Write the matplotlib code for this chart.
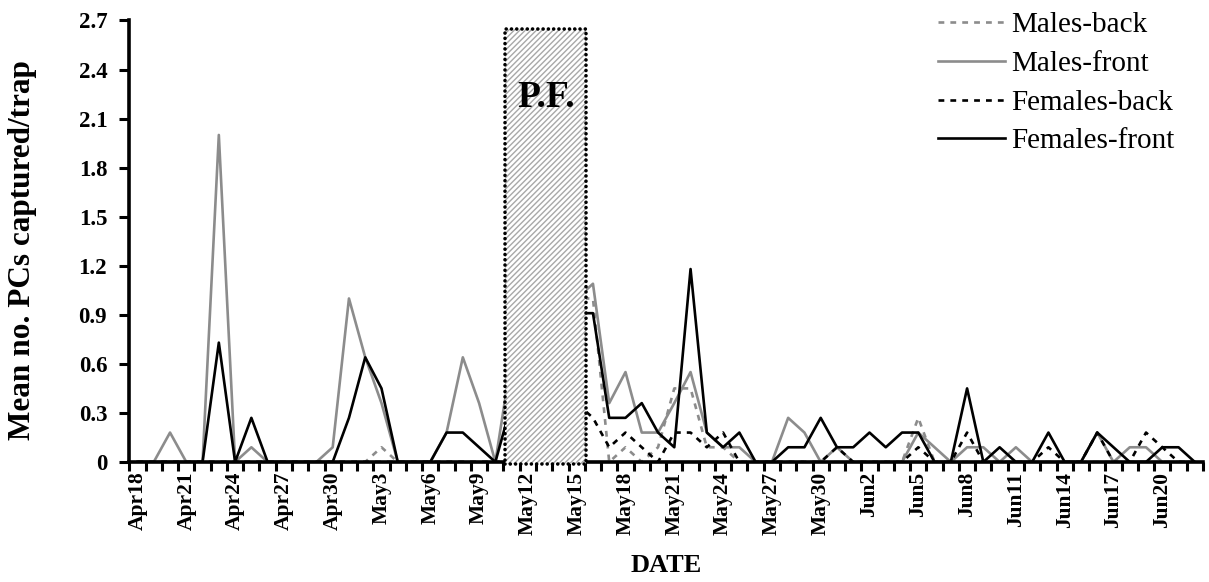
import datetime as dt
import numpy as np
import matplotlib
matplotlib.use("Agg")
import matplotlib.pyplot as plt
from matplotlib.patches import Rectangle
from matplotlib.lines import Line2D

plt.rcParams['font.family'] = ['Liberation Serif', 'DejaVu Serif']
plt.rcParams['hatch.linewidth'] = 1.0

# one category per day, Apr18 .. Jun22
start = dt.date(2001, 4, 18)
dates = [start + dt.timedelta(days=i) for i in range(66)]
day_labels = [d.strftime('%b') + str(d.day) for d in dates]

# mean captures per trap (k/11 steps)
males_back = [0, 0, 0, 0, 0, 0, 0, 0, 0, 0, 0,
              0, 0, 0, 0, 0.09, 0, 0, 0, 0, 0, 0,
              0, 0, 0.18, 0.36, 0.55, 1.0, 1.0, 0, 0.09, 0, 0.09,
              0.45, 0.45, 0.09, 0.09, 0, 0, 0, 0, 0, 0, 0,
              0, 0, 0, 0, 0.27, 0, 0, 0, 0, 0, 0,
              0, 0, 0, 0, 0, 0, 0, 0, 0, 0, 0]
males_front = [0, 0, 0.18, 0, 0, 2.0, 0, 0.09, 0, 0, 0,
               0, 0.09, 1.0, 0.64, 0.36, 0, 0, 0, 0.18, 0.64, 0.36,
               0, 0.64, 0.45, 0.55, 0.73, 1.0, 1.09, 0.36, 0.55, 0.18, 0.18,
               0.36, 0.55, 0.18, 0.09, 0.09, 0, 0, 0.27, 0.18, 0, 0.09,
               0, 0, 0, 0, 0.18, 0.09, 0, 0.09, 0.09, 0, 0.09,
               0, 0, 0, 0, 0.18, 0, 0.09, 0.09, 0, 0, 0]
females_back = [0, 0, 0, 0, 0, 0, 0, 0, 0, 0, 0,
                0, 0, 0, 0, 0, 0, 0, 0, 0, 0, 0,
                0, 0, 0.09, 0.18, 0.27, 0.36, 0.27, 0.09, 0.18, 0.09, 0,
                0.18, 0.18, 0.09, 0.18, 0, 0, 0, 0, 0, 0, 0.09,
                0, 0, 0, 0, 0.09, 0, 0, 0.18, 0, 0, 0,
                0, 0.09, 0, 0, 0.18, 0, 0, 0.18, 0.09, 0, 0]
females_front = [0, 0, 0, 0, 0, 0.73, 0, 0.27, 0, 0, 0,
                 0, 0, 0.27, 0.64, 0.45, 0, 0, 0, 0.18, 0.18, 0.09,
                 0, 0.36, 0.27, 0.45, 0.64, 0.91, 0.91, 0.27, 0.27, 0.36, 0.18,
                 0.09, 1.18, 0.18, 0.09, 0.18, 0, 0, 0.09, 0.09, 0.27, 0.09,
                 0.09, 0.18, 0.09, 0.18, 0.18, 0, 0, 0.45, 0, 0.09, 0,
                 0, 0.18, 0, 0, 0.18, 0.09, 0, 0, 0.09, 0.09, 0]

series_names = ['Males-back', 'Males-front', 'Females-back', 'Females-front']
pf_start, pf_end, pf_top = 22.6, 27.6, 2.65   # P.F. period box (category units)

GRAY = '#8c8c8c'
LW = 1.9
DASH = (2.2, 2.3)

fig = plt.figure(figsize=(12.09, 5.82), dpi=100)
ax = fig.add_axes([0.107, 0.2062, 0.888, 0.7586])
x = np.arange(len(dates))

ax.plot(x, males_back, color=GRAY, lw=LW, dashes=DASH, zorder=2)
ax.plot(x, males_front, color=GRAY, lw=LW, zorder=2)
ax.plot(x, females_back, color='black', lw=LW, dashes=DASH, zorder=2)
ax.plot(x, females_front, color='black', lw=LW, zorder=2)

# P.F. box: gray hatching with dotted black frame
ax.add_patch(Rectangle((pf_start, -0.01), pf_end - pf_start, pf_top + 0.01,
                       facecolor='white', edgecolor='#a8a8a8', hatch='//////',
                       lw=0, zorder=3, clip_on=False))
ax.add_patch(Rectangle((pf_start, -0.01), pf_end - pf_start, pf_top + 0.01,
                       fill=False, edgecolor='black', lw=2.6,
                       linestyle=(0, (0.01, 1.45)), capstyle='round',
                       zorder=4, clip_on=False))
ax.text((pf_start + pf_end) / 2, 2.23, 'P.F.', ha='center', va='center',
        fontsize=27, fontweight='bold', zorder=5)

ax.set_xlim(-0.5, len(dates) - 0.5)
ax.set_ylim(0, 2.7)

yt = np.round(np.arange(0, 2.71, 0.3), 1)
ax.set_yticks(yt, ['0' if v == 0 else f'{v:.1f}' for v in yt],
              fontsize=16.5, fontweight='bold')
ax.tick_params(axis='y', length=7, width=2.2, pad=9)

ax.set_xticks(np.arange(-0.5, len(dates), 1))
ax.set_xticklabels([])
ax.tick_params(axis='x', which='major', length=6.5, width=2.2)
ax.set_xticks(x[::3], day_labels[::3], minor=True, rotation=90,
              fontsize=15.5, fontweight='bold')
ax.tick_params(axis='x', which='minor', length=0, pad=7)

for side in ['top', 'right']:
    ax.spines[side].set_visible(False)
for side in ['left', 'bottom']:
    ax.spines[side].set_linewidth(2.6)
    ax.spines[side].set_zorder(2.5)

fig.text(0.551, 0.029, 'DATE', ha='center', va='center', fontsize=19,
         fontweight='bold')
fig.text(0.019, 0.57, 'Mean no. PCs captured/trap', ha='center',
         va='center', rotation=90, fontsize=22.5, fontweight='bold')

handles = [Line2D([], [], color=GRAY, lw=LW, dashes=DASH),
           Line2D([], [], color=GRAY, lw=LW),
           Line2D([], [], color='black', lw=LW, dashes=DASH),
           Line2D([], [], color='black', lw=LW)]
fig.legend(handles, series_names, loc='upper left',
           bbox_to_anchor=(938 / 1209, 1 - 12 / 582), frameon=False,
           fontsize=21, handlelength=2.3, handletextpad=0.2,
           labelspacing=0.42, borderpad=0, borderaxespad=0)

fig.savefig('out.png', dpi=100)
